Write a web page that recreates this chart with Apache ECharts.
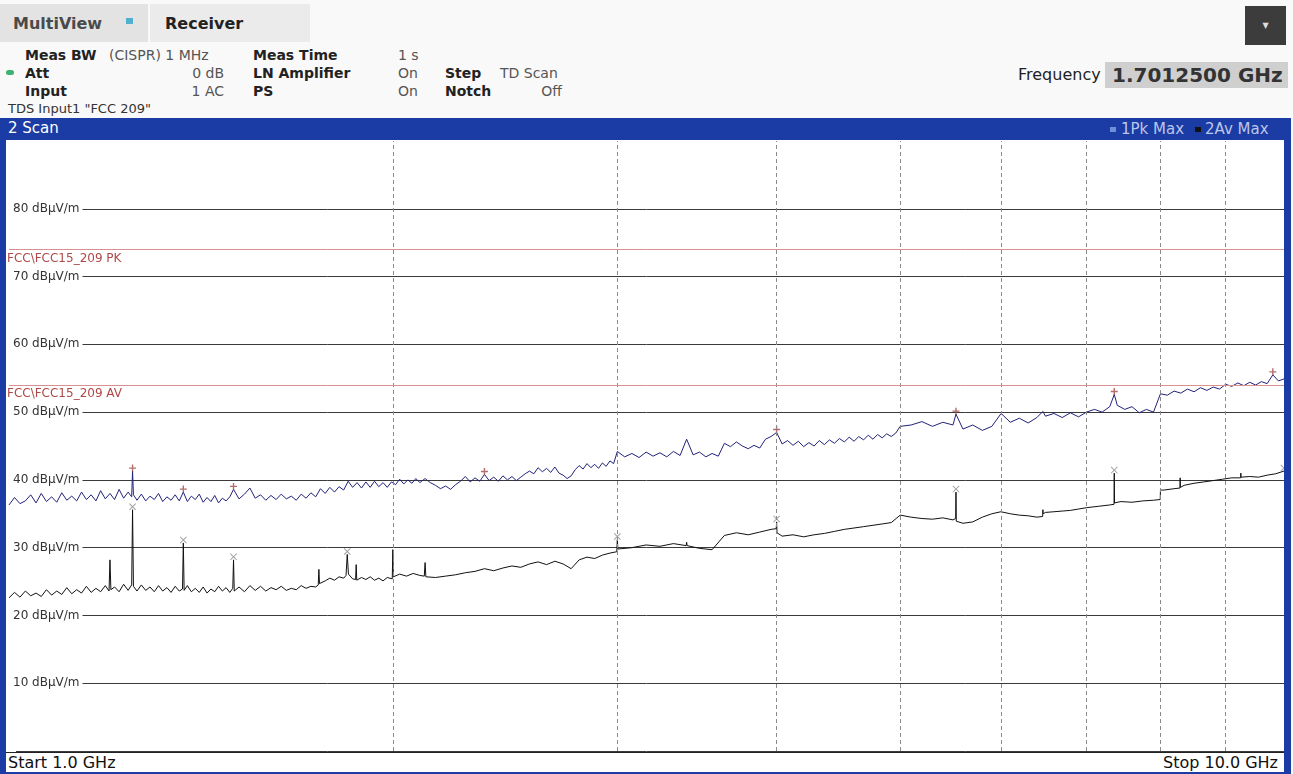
<!DOCTYPE html>
<html>
<head>
<meta charset="utf-8">
<script src="https://cdn.jsdelivr.net/npm/echarts@6/dist/echarts.min.js"></script>
<style>
body{margin:0;width:1293px;height:774px;position:relative;background:#f9f9f9;font-family:"DejaVu Sans",sans-serif;overflow:hidden}
.t{position:absolute;white-space:nowrap;line-height:1;font-size:14px;color:#555}
.b{font-weight:bold;color:#222}
</style>
</head>
<body>
<div style="position:absolute;left:0;top:4px;width:148px;height:38px;background:#e3e3e3"></div>
<div style="position:absolute;left:150px;top:4px;width:160px;height:38px;background:#ebebeb"></div>
<div class="t b" style="left:13px;top:16px;font-size:16px;color:#4a4a4a">MultiView</div>
<div style="position:absolute;left:126px;top:18px;width:7px;height:6px;background:#4fb0d0"></div>
<div class="t b" style="left:165px;top:16px;font-size:16px">Receiver</div>
<div style="position:absolute;left:1245px;top:6px;width:41px;height:39px;background:#3c3c3c;color:#ddd;font-size:8px;text-align:center;line-height:39px">&#9660;</div>

<div class="t b" style="left:25px;top:48px">Meas BW</div>
<div class="t" style="left:109px;top:48px">(CISPR) 1 MHz</div>
<div style="position:absolute;left:6px;top:70px;width:8px;height:5px;border-radius:3px;background:#3cb371"></div>
<div class="t b" style="left:25px;top:66px">Att</div>
<div class="t" style="right:1069px;top:66px">0 dB</div>
<div class="t b" style="left:25px;top:84px">Input</div>
<div class="t" style="right:1069px;top:84px">1 AC</div>
<div class="t b" style="left:253px;top:48px">Meas Time</div>
<div class="t b" style="left:253px;top:66px">LN Amplifier</div>
<div class="t b" style="left:253px;top:84px">PS</div>
<div class="t" style="left:398px;top:48px">1 s</div>
<div class="t" style="left:398px;top:66px">On</div>
<div class="t" style="left:398px;top:84px">On</div>
<div class="t b" style="left:445px;top:66px">Step</div>
<div class="t" style="left:500px;top:66px">TD Scan</div>
<div class="t b" style="left:445px;top:84px">Notch</div>
<div class="t" style="right:731px;top:84px">Off</div>
<div class="t" style="left:8px;top:102px;font-size:13px;color:#333">TDS Input1 "FCC 209"</div>

<div class="t" style="left:1018px;top:67px;font-size:16px;color:#222">Frequency</div>
<div style="position:absolute;left:1105px;top:62px;width:183px;height:26px;background:#cfcfcf"></div>
<div class="t b" style="left:1112px;top:65px;font-size:20px;color:#333">1.7012500 GHz</div>

<div style="position:absolute;left:0;top:118px;width:1291px;height:656px;background:#1b3ca4"></div>
<div class="t" style="left:8px;top:121px;font-size:15px;color:#fff">2 Scan</div>
<div style="position:absolute;left:1110px;top:127px;width:6px;height:5px;background:#6f8fd8"></div>
<div class="t" style="left:1121px;top:122px;font-size:15px;color:#bcc6ea">1Pk Max</div>
<div style="position:absolute;left:1195px;top:127px;width:6px;height:5px;background:#111"></div>
<div class="t" style="left:1205px;top:122px;font-size:15px;color:#bcc6ea">2Av Max</div>

<div id="scan" style="position:absolute;left:6px;top:140px;width:1278px;height:612px;background:#fff"></div>
<div style="position:absolute;left:6px;top:752px;width:1278px;height:20px;background:#fff;border-top:1px solid #222;box-sizing:border-box"></div>
<div class="t" style="left:8px;top:755px;font-size:16px;color:#111">Start 1.0 GHz</div>
<div class="t" style="right:15px;top:755px;font-size:16px;color:#111">Stop 10.0 GHz</div>

<script>
// trace 1: Pk Max, frequency (GHz) and level (dBuV/m)
var pkFreqGHz = [1.00,1.01,1.02,1.03,1.04,1.05,1.06,1.07,1.08,1.09,1.10,1.11,1.12,1.13,1.14,1.15,1.16,1.17,1.18,1.19,
  1.20,1.21,1.22,1.23,1.24,1.248,1.25,1.252,1.26,1.27,1.28,1.29,1.30,1.31,1.32,1.33,1.34,1.35,1.36,1.37,
  1.38,1.39,1.40,1.41,1.42,1.43,1.44,1.45,1.46,1.47,1.48,1.49,1.50,
  1.515,1.53,1.545,1.56,1.575,1.59,1.605,1.62,1.635,1.65,1.665,1.68,1.695,1.71,1.725,1.74,1.755,1.77,1.785,1.8,
  1.815,1.83,1.845,1.86,1.875,1.89,1.905,1.92,1.935,1.95,1.965,1.98,1.995,2.01,2.025,2.04,2.055,2.07,2.085,2.1,
  2.12,2.14,2.16,2.18,2.2,2.22,2.24,2.26,2.28,2.3,2.32,2.34,2.36,2.38,2.4,2.42,2.44,2.46,2.48,2.5,
  2.52,2.54,2.56,2.58,2.6,2.62,2.64,2.66,2.68,2.7,2.72,2.74,2.76,2.78,2.8,2.82,2.84,2.86,2.88,2.9,
  2.92,2.94,2.96,2.98,3.0,
  3.04,3.08,3.12,3.16,3.2,3.24,3.28,3.32,3.36,3.4,3.44,3.48,3.52,3.56,3.6,3.64,3.68,3.72,3.76,3.8,
  3.84,3.88,3.92,3.96,4.0,4.04,4.08,4.12,4.16,4.2,4.24,4.28,4.32,4.36,4.4,4.44,4.48,4.52,4.56,4.6,
  4.64,4.68,4.72,4.76,4.8,4.84,4.88,4.92,4.96,5.0,
  5.1,5.2,5.3,5.4,5.5,5.53,5.6,5.7,5.8,5.9,6.0,6.1,6.2,6.3,6.4,6.47,6.5,6.6,6.7,6.8,
  6.9,7.0,7.1,7.2,7.3,7.36,7.4,7.5,7.6,7.7,7.8,7.9,8.0,8.1,8.2,8.3,8.4,8.5,8.6,8.7,
  8.8,8.9,9.0,9.1,9.2,9.3,9.4,9.5,9.6,9.7,9.8,9.9,10.0];
var pkMaxDb = [36.3,37.4,36.5,36.9,37.8,36.6,38.0,36.8,37.5,36.7,38.1,37.0,37.6,36.9,38.2,37.1,37.8,36.9,38.4,37.2,
  38.0,37.1,38.6,37.3,38.2,37.5,41.3,37.8,37.0,37.9,36.9,37.6,37.1,38.0,36.8,37.5,37.0,37.8,36.9,38.2,
  36.8,37.6,37.1,37.9,36.7,37.4,36.8,37.7,36.6,37.3,36.9,37.5,38.6,
  37.2,37.9,38.8,37.3,37.8,37.0,37.7,37.1,37.9,37.2,37.6,37.0,37.9,37.3,38.1,37.5,38.7,38.0,38.9,38.2,
  39.0,38.5,39.8,38.9,39.6,38.8,39.7,38.9,39.8,39.0,39.6,38.9,39.7,39.3,40.1,39.4,40.0,39.5,40.2,39.6,
  40.2,39.6,39.2,38.7,39.1,38.6,39.3,39.8,40.5,39.7,40.3,39.8,40.8,39.9,40.4,39.8,40.6,40.0,40.5,39.9,
  40.4,40.9,41.3,40.9,41.8,41.2,41.7,41.1,41.9,41.0,40.7,40.2,40.6,41.5,42.1,41.6,42.4,41.8,42.3,41.7,
  42.5,42.0,42.8,42.4,44.2,
  43.4,43.9,43.3,44.1,43.5,44.0,43.4,44.2,43.6,46.0,43.7,44.1,43.4,43.9,43.5,45.4,44.9,45.6,45.0,44.6,
  45.1,44.7,46.0,46.4,47.0,45.3,45.8,45.1,45.7,44.9,45.5,45.0,45.8,45.2,45.9,45.4,46.1,45.6,46.3,45.7,
  46.4,45.9,46.6,46.0,46.7,46.2,46.8,46.4,46.9,47.9,
  48.1,48.6,47.9,48.5,48.1,49.7,47.5,48.1,47.3,47.9,49.8,48.5,49.1,48.4,49.2,50.1,49.4,49.8,49.2,49.9,
  49.3,50.0,50.4,50.0,50.8,52.6,51.0,50.4,50.8,49.9,50.4,50.0,52.7,52.5,53.1,52.8,53.4,53.0,53.6,53.2,
  53.7,53.4,54.1,53.8,54.3,53.9,54.4,54.0,54.5,54.2,55.5,54.6,54.9];

// trace 2: Av Max, frequency (GHz) and level (dBuV/m)
var avFreqGHz = [1.00,1.01,1.02,1.03,1.04,1.05,1.06,1.07,1.08,1.09,1.10,1.11,1.12,1.13,1.14,1.15,1.16,1.17,1.18,1.19,
  1.198,1.20,1.202,1.21,1.22,1.23,1.24,1.248,1.25,1.252,1.26,1.27,1.28,1.29,1.30,1.31,1.32,1.33,1.34,1.35,
  1.36,1.368,1.37,1.372,1.38,1.39,1.40,1.41,1.42,1.43,1.44,1.45,1.46,1.47,1.48,1.49,1.498,1.50,1.502,
  1.515,1.53,1.545,1.56,1.575,1.59,1.605,1.62,1.635,1.65,1.665,1.68,1.695,1.71,1.725,1.74,1.748,1.75,1.752,1.77,
  1.785,1.8,1.815,1.83,1.838,1.842,1.846,1.86,1.87,1.872,1.874,1.89,1.905,1.92,1.935,1.95,1.965,1.98,1.998,2.0,
  2.002,2.025,2.05,2.075,2.1,2.117,2.12,2.123,2.16,2.2,2.24,2.28,2.32,2.36,2.4,2.44,2.48,2.52,2.56,2.6,
  2.64,2.68,2.72,2.76,2.8,2.84,2.88,2.92,2.96,2.997,3.0,3.003,3.08,3.16,3.24,3.32,3.397,3.4,3.403,3.48,
  3.56,3.64,3.72,3.8,3.88,3.96,3.997,4.0,4.003,4.04,4.12,4.2,4.28,4.36,4.44,4.52,4.6,4.68,4.76,4.84,
  4.92,5.0,5.1,5.2,5.3,5.4,5.5,5.527,5.53,5.533,5.6,5.7,5.8,5.9,5.997,6.0,6.003,6.1,6.2,6.3,
  6.4,6.467,6.47,6.473,6.5,6.6,6.7,6.8,6.9,7.0,7.15,7.3,7.357,7.36,7.363,7.45,7.6,7.75,7.9,7.997,
  8.0,8.05,8.2,8.287,8.29,8.293,8.35,8.5,8.65,8.8,8.95,9.1,9.247,9.25,9.253,9.4,9.55,9.7,9.85,10.0];
var avMaxDb = [22.6,23.4,22.7,23.6,22.9,23.3,22.8,23.8,23.0,23.6,23.1,24.1,23.2,23.8,23.3,24.3,23.4,24.0,23.5,24.4,
  23.6,28.2,23.8,24.2,23.5,24.6,23.7,24.5,35.6,24.3,23.6,24.5,23.7,24.2,23.5,24.4,23.6,24.1,23.4,24.3,
  23.6,23.9,30.7,23.7,24.4,23.5,24.0,23.4,24.2,23.3,23.9,23.5,24.3,23.6,24.1,23.4,24.0,28.2,23.6,
  24.2,23.5,24.4,23.7,24.3,23.6,24.1,23.8,24.3,23.7,24.0,23.8,24.4,24.0,24.3,24.2,24.5,26.8,24.7,25.1,
  25.5,25.2,25.7,25.5,25.9,29.0,26.1,25.4,25.3,27.5,25.2,25.6,25.3,25.7,25.2,25.5,25.1,25.6,25.4,29.7,
  25.7,26.1,25.8,26.2,25.9,25.8,27.8,25.7,25.6,25.8,26.0,26.3,26.5,26.9,26.6,27.0,27.3,27.1,27.6,27.9,
  27.5,28.0,27.6,26.9,28.2,28.6,28.4,28.9,29.2,29.4,31.2,29.8,30.0,30.4,30.2,30.6,30.3,30.8,30.3,29.9,
  29.7,31.8,32.2,31.9,32.3,32.7,32.8,33.8,32.2,31.7,31.9,31.6,31.9,32.1,32.4,32.7,32.9,33.1,33.3,33.5,
  33.7,34.8,34.5,34.3,34.2,34.4,34.1,34.3,38.2,33.9,33.6,33.8,34.5,35.0,35.3,35.4,35.2,35.0,34.8,34.7,
  34.5,34.6,35.6,35.0,35.2,35.3,35.4,35.5,35.7,35.9,36.1,36.3,36.4,41.0,36.6,36.8,36.7,36.9,37.0,37.1,
  38.5,38.5,38.7,38.8,40.3,38.9,39.2,39.5,39.7,39.9,40.1,40.3,40.3,41.0,40.4,40.5,40.4,40.7,40.9,41.3];

// peak markers (GHz)
var pkMarkFreqs = [1.25, 1.37, 1.5, 2.36, 4.0, 5.53, 7.36, 9.8];
var avMarkFreqs = [1.25, 1.37, 1.5, 1.842, 3.0, 4.0, 5.53, 7.36, 10.0];

// limit lines FCC 15.209
var pkLimit = 74;
var avLimit = 54;

// vertical grid (GHz)
var gridFreqs = [2, 3, 4, 5, 6, 7, 8, 9];

var scan = echarts.init(document.getElementById('scan'));

var pkData = pkFreqGHz.map(function (f, i) { return [f, pkMaxDb[i]]; });
var avData = avFreqGHz.map(function (f, i) { return [f, avMaxDb[i]]; });
var pkMarks = pkMarkFreqs.map(function (f) { return [f, pkMaxDb[pkFreqGHz.indexOf(f)]]; });
var avMarks = avMarkFreqs.map(function (f) { return [f, avMaxDb[avFreqGHz.indexOf(f)]]; });

var plusPath = 'path://M4,0L6,0L6,4L10,4L10,6L6,6L6,10L4,10L4,6L0,6L0,4L4,4Z';
var crossPath = 'path://M0,1L1,0L5,4L9,0L10,1L6,5L10,9L9,10L5,6L1,10L0,9L4,5Z';

function limitLabel(txt) {
    return { show: true, position: 'insideStartBottom', formatter: txt, color: '#b04848', fontSize: 12, fontFamily: 'DejaVu Sans', distance: [-2, 3] };
}

// 0..80 dark lines, top edge (90) hidden
var hLineColors = ['#3a3a3a', '#3a3a3a', '#3a3a3a', '#3a3a3a', '#3a3a3a', '#3a3a3a', '#3a3a3a', '#3a3a3a', '#3a3a3a', '#ffffff'];

var option = {
    animation: false,
    grid: { left: 0, right: 0, top: 0, bottom: 0 },
    xAxis: {
        type: 'log',
        logBase: 10,
        min: 1,
        max: 10,
        axisLine: { show: false },
        axisTick: { show: false },
        axisLabel: { show: false },
        splitLine: { show: false }
    },
    yAxis: {
        type: 'value',
        min: 0,
        max: 90,
        interval: 10,
        axisLine: { show: false },
        axisTick: { show: false },
        axisLabel: {
            inside: true,
            margin: 0,
            color: '#333',
            fontSize: 12,
            fontFamily: 'DejaVu Sans',
            backgroundColor: '#fff',
            padding: [1, 3, 1, 4],
            formatter: function (v) { return (v > 0 && v < 90) ? v + ' dBµV/m' : ''; }
        },
        splitLine: { lineStyle: { color: hLineColors, width: 1 } }
    },
    series: [
        {
            // vertical dashed grid + limit lines
            type: 'line',
            data: [],
            z: 1,
            markLine: {
                silent: true,
                symbol: 'none',
                animation: false,
                data: gridFreqs.map(function (f) {
                    return { xAxis: f, label: { show: false }, lineStyle: { color: '#8a8a8a', type: [4, 3], width: 1 } };
                }).concat([
                    { yAxis: pkLimit, label: limitLabel('FCC\\FCC15_209 PK'), lineStyle: { color: '#d89090', type: 'solid', width: 1 } },
                    { yAxis: avLimit, label: limitLabel('FCC\\FCC15_209 AV'), lineStyle: { color: '#d89090', type: 'solid', width: 1 } }
                ])
            }
        },
        {
            name: '1Pk Max',
            type: 'line',
            data: pkData,
            showSymbol: false,
            z: 3,
            lineStyle: { color: '#22227a', width: 1 }
        },
        {
            name: '2Av Max',
            type: 'line',
            data: avData,
            showSymbol: false,
            z: 3,
            lineStyle: { color: '#111', width: 1 }
        },
        {
            type: 'scatter',
            data: pkMarks,
            symbol: plusPath,
            symbolSize: 7,
            symbolOffset: [0, -3],
            z: 4,
            itemStyle: { color: '#a04848' }
        },
        {
            type: 'scatter',
            data: avMarks,
            symbol: crossPath,
            symbolSize: 7,
            symbolOffset: [0, -3],
            z: 4,
            itemStyle: { color: '#888' }
        }
    ]
};
scan.setOption(option);
</script>
</body>
</html>
